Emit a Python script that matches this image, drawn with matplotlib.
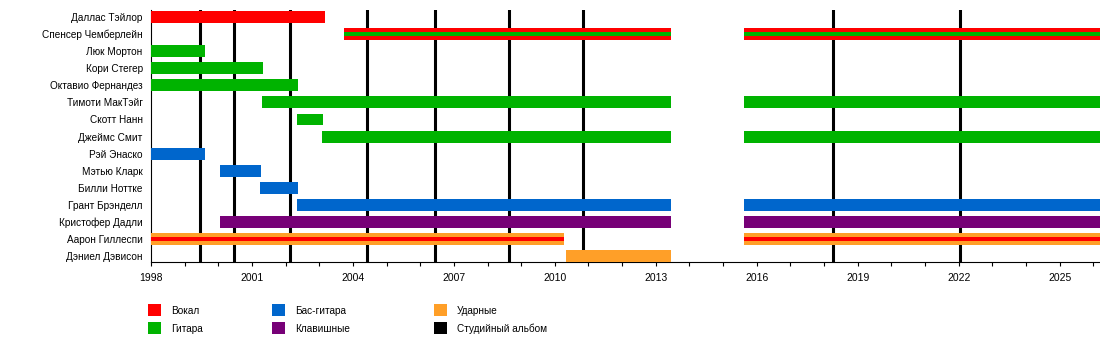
import matplotlib
matplotlib.use("Agg")
import matplotlib.pyplot as plt
from matplotlib.patches import Rectangle

plt.rcParams['font.family'] = ['Liberation Sans', 'DejaVu Sans']

# ---- data ----
names = ["Даллас Тэйлор", "Спенсер Чемберлейн", "Люк Мортон", "Кори Стегер",
         "Октавио Фернандез", "Тимоти МакТэйг", "Скотт Нанн", "Джеймс Смит",
         "Рэй Энаско", "Мэтью Кларк", "Билли Ноттке", "Грант Брэнделл",
         "Кристофер Дадли", "Аарон Гиллеспи", "Дэниел Дэвисон"]
main_role = ["vocals", "vocals", "guitar", "guitar", "guitar", "guitar", "guitar", "guitar",
             "bass", "bass", "bass", "bass", "keys", "drums", "drums"]
second_role = [None, "guitar", None, None, None, None, None, None,
               None, None, None, None, None, "vocals", None]
END = 2026.2
stints = [
    [(1998.0, 2003.17)],
    [(2003.73, 2013.44), (2015.61, END)],
    [(1998.0, 1999.6)],
    [(1998.0, 2001.32)],
    [(1998.0, 2002.36)],
    [(2001.3, 2013.44), (2015.61, END)],
    [(2002.34, 2003.1)],
    [(2003.08, 2013.44), (2015.61, END)],
    [(1998.0, 1999.6)],
    [(2000.05, 2001.26)],
    [(2001.24, 2002.36)],
    [(2002.34, 2013.44), (2015.61, END)],
    [(2000.05, 2013.44), (2015.61, END)],
    [(1998.0, 2010.27), (2015.61, END)],
    [(2010.33, 2013.44)],
]
albums = [1999.47, 2000.47, 2002.13, 2004.42, 2006.43, 2008.65, 2010.84, 2018.26, 2022.04]

role_colors = {"vocals": "#FF0000", "guitar": "#00B300", "bass": "#0066CC",
               "keys": "#770077", "drums": "#FF9F28", "album": "#000000"}
legend_keys = ["vocals", "guitar", "bass", "keys", "drums", "album"]
legend_labels = ["Вокал", "Гитара", "Бас-гитара", "Клавишные", "Ударные", "Студийный альбом"]

# ---- figure ----
W, H = 1100, 342
fig = plt.figure(figsize=(W / 100, H / 100), dpi=100)
ax = fig.add_axes([151 / W, 1 - 262 / H, 1 - 151 / W, (262 - 10) / H])

bar_h = 0.70
for i, name in enumerate(names):
    for (s, e) in stints[i]:
        ax.barh(i, e - s, left=s, height=bar_h, color=role_colors[main_role[i]],
                zorder=3, linewidth=0)
        if second_role[i]:
            ax.barh(i, e - s, left=s, height=bar_h * 0.36, color=role_colors[second_role[i]],
                    zorder=4, linewidth=0)

for a in albums:
    ax.axvline(a, color="black", linewidth=2.2, zorder=2)

ax.set_xlim(1998, END)
ax.set_ylim(14.33, -0.40)
ax.set_yticks(range(len(names)))
ax.set_yticklabels(names, fontsize=7.2)
ax.tick_params(axis='y', length=0, pad=6)
ax.set_xticks(range(1998, 2027, 3))
ax.set_xticks(range(1998, 2027), minor=True)
ax.tick_params(axis='x', which='both', direction='out', length=3, width=0.8, labelsize=7.5, pad=5)
for sp in ["top", "right"]:
    ax.spines[sp].set_visible(False)
for sp in ["left", "bottom"]:
    ax.spines[sp].set_linewidth(0.8)

# ---- legend ----
col_x = [148, 272, 434]
row_y = [304, 322]
for k, (key, lab) in enumerate(zip(legend_keys, legend_labels)):
    c, r = divmod(k, 2)
    x0, y0 = col_x[c], row_y[r]
    fig.add_artist(Rectangle((x0 / W, 1 - (y0 + 12) / H), 13 / W, 12 / H,
                             transform=fig.transFigure, color=role_colors[key], linewidth=0))
    fig.text((x0 + 23) / W, 1 - (y0 + 6.5) / H, lab, fontsize=7.2, va="center", ha="left")

fig.savefig("out.png", dpi=100)
